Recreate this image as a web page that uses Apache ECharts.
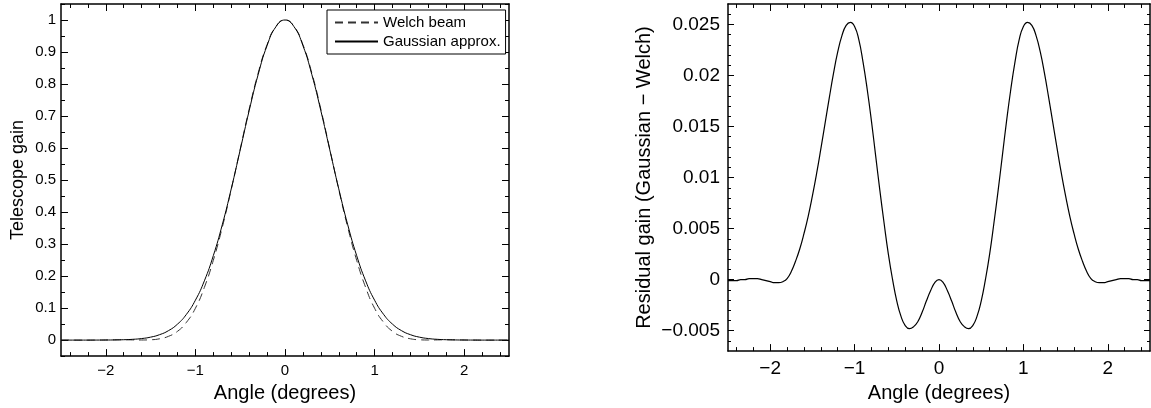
<!DOCTYPE html>
<html>
<head>
<meta charset="utf-8">
<script src="https://cdn.jsdelivr.net/npm/echarts@6/dist/echarts.min.js"></script>
<style>
  html, body { margin: 0; padding: 0; background: #fff; }
  #chart { width: 1151px; height: 408px; }
</style>
</head>
<body>
<div id="chart"></div>
<script>
// beam angle (degrees)
const angle = [
  -2.5, -2.4, -2.3, -2.2, -2.1, -2.0, -1.9, -1.8, -1.7, -1.6, -1.5, -1.4, -1.3,
  -1.2, -1.1, -1.0, -0.9, -0.8, -0.7, -0.6, -0.5, -0.4, -0.3, -0.2, -0.1, 0,
  0.1, 0.2, 0.3, 0.4, 0.5, 0.6, 0.7, 0.8, 0.9, 1.0, 1.1, 1.2, 1.3, 1.4, 1.5,
  1.6, 1.7, 1.8, 1.9, 2.0, 2.1, 2.2, 2.3, 2.4, 2.5
]
const gaussianGain = [
  0, 0, 0, 0, 0.0001, 0.0002, 0.0005, 0.0012, 0.0024, 0.0048, 0.0092, 0.0169, 0.0296,
  0.0498, 0.0805, 0.1246, 0.1851, 0.2638, 0.3604, 0.4725, 0.5942, 0.7167, 0.8291, 0.9201, 0.9794, 1,
  0.9794, 0.9201, 0.8291, 0.7167, 0.5942, 0.4725, 0.3604, 0.2638, 0.1851, 0.1246, 0.0805, 0.0498, 0.0296, 0.0169, 0.0092,
  0.0048, 0.0024, 0.0012, 0.0005, 0.0002, 0.0001, 0, 0, 0, 0
]
const welchGain = [
  0.0001, 0, -0.0001, -0.0001, 0.0001, 0.0004, 0.0008, 0.0011, 0.0006, 0.0003, 0.0010, 0.0041, 0.0118,
  0.0273, 0.0556, 0.0994, 0.1646, 0.2493, 0.3524, 0.4705, 0.5964, 0.7214, 0.8338, 0.9232, 0.9804, 1,
  0.9804, 0.9232, 0.8338, 0.7214, 0.5964, 0.4705, 0.3524, 0.2493, 0.1646, 0.0994, 0.0556, 0.0273, 0.0118, 0.0041, 0.0010,
  0.0003, 0.0006, 0.0011, 0.0008, 0.0004, 0.0001, -0.0001, -0.0001, 0, 0.0001
]

// residual is read on a finer angle grid
const angleFine = [
  -2.5, -2.45, -2.4, -2.35, -2.3, -2.25, -2.2, -2.15, -2.1, -2.05,
  -2.0, -1.95, -1.9, -1.85, -1.8, -1.75, -1.7, -1.65, -1.6, -1.55,
  -1.5, -1.45, -1.4, -1.35, -1.3, -1.25, -1.2, -1.15, -1.1, -1.05,
  -1.0, -0.95, -0.9, -0.85, -0.8, -0.75, -0.7, -0.65, -0.6, -0.55,
  -0.5, -0.45, -0.4, -0.35, -0.3, -0.25, -0.2, -0.15, -0.1, -0.05, 0,
  0.05, 0.1, 0.15, 0.2, 0.25, 0.3, 0.35, 0.4, 0.45, 0.5,
  0.55, 0.6, 0.65, 0.7, 0.75, 0.8, 0.85, 0.9, 0.95, 1.0,
  1.05, 1.1, 1.15, 1.2, 1.25, 1.3, 1.35, 1.4, 1.45, 1.5,
  1.55, 1.6, 1.65, 1.7, 1.75, 1.8, 1.85, 1.9, 1.95, 2.0,
  2.05, 2.1, 2.15, 2.2, 2.25, 2.3, 2.35, 2.4, 2.45, 2.5
]
const residualGain = [
  -0.0001, -0.0001, -0.0001, 0, 0, 0.0001, 0.0001, 0.0001, 0, -0.0001,
  -0.0002, -0.0003, -0.0003, -0.0002, 0.0001, 0.0008, 0.0018, 0.0030, 0.0045, 0.0062,
  0.0082, 0.0104, 0.0128, 0.0153, 0.0178, 0.0202, 0.0223, 0.0239, 0.0249, 0.0252,
  0.0248, 0.0235, 0.0213, 0.0186, 0.0155, 0.0121, 0.0087, 0.0055, 0.0025, 0,
  -0.0021, -0.0036, -0.0045, -0.0048, -0.0046, -0.0041, -0.0032, -0.0021, -0.0011, -0.0003, 0,
  -0.0003, -0.0011, -0.0021, -0.0032, -0.0041, -0.0046, -0.0048, -0.0045, -0.0036, -0.0021,
  0, 0.0025, 0.0055, 0.0087, 0.0121, 0.0155, 0.0186, 0.0213, 0.0235, 0.0248,
  0.0252, 0.0249, 0.0239, 0.0223, 0.0202, 0.0178, 0.0153, 0.0128, 0.0104, 0.0082,
  0.0062, 0.0045, 0.0030, 0.0018, 0.0008, 0.0001, -0.0002, -0.0003, -0.0003, -0.0002,
  -0.0001, 0, 0.0001, 0.0001, 0.0001, 0, 0, -0.0001, -0.0001, -0.0001
]

// tick marks
const angleTicks = [-2, -1, 0, 1, 2]
const angleMinor = [-2.4, -2.2, -1.8, -1.6, -1.4, -1.2, -0.8, -0.6, -0.4, -0.2, 0.2, 0.4, 0.6, 0.8, 1.2, 1.4, 1.6, 1.8, 2.2, 2.4]
const gainTicks = [0, 0.1, 0.2, 0.3, 0.4, 0.5, 0.6, 0.7, 0.8, 0.9, 1]
const gainMinor = [-0.05, 0.05, 0.15, 0.25, 0.35, 0.45, 0.55, 0.65, 0.75, 0.85, 0.95, 1.05]
const residTicks = [-0.005, 0, 0.005, 0.01, 0.015, 0.02, 0.025]
const residMinor = [-0.006, -0.004, -0.003, -0.002, -0.001, 0.001, 0.002, 0.003, 0.004,
  0.006, 0.007, 0.008, 0.009, 0.011, 0.012, 0.013, 0.014, 0.016, 0.017, 0.018, 0.019,
  0.021, 0.022, 0.023, 0.024, 0.026]

const font = "'Liberation Sans', Arial, sans-serif"
const pair = (xs, ys) => xs.map((x, i) => [x, ys[i]])
const minus = v => String(v).replace('-', '\u2212')

function axisSet(kind, grid, range, major, minor, opts) {
  // four axes: labelled side with major ticks, minor ticks, and the mirrored side
  const base = { type: 'value', gridIndex: grid, min: range[0], max: range[1],
    splitLine: { show: false }, axisPointer: { show: false } }
  const sides = kind === 'x' ? ['bottom', 'top'] : ['left', 'right']
  const list = []
  sides.forEach((pos, s) => {
    list.push(Object.assign({}, base, {
      position: pos,
      axisLine: { show: true, onZero: false, lineStyle: { color: '#000', width: 1.5 } },
      axisTick: { show: true, inside: true, length: opts.major, customValues: major,
        lineStyle: { color: '#000', width: 1 } },
      axisLabel: s === 0 ? { show: true, customValues: major, formatter: minus,
        color: '#000', fontFamily: font, fontSize: opts.fontSize, margin: opts.margin } : { show: false }
    }, s === 0 ? opts.name : {}))
    list.push(Object.assign({}, base, {
      position: pos,
      axisLine: { show: false, onZero: false },
      axisTick: { show: true, inside: true, length: opts.minor, customValues: minor,
        lineStyle: { color: '#000', width: 1 } },
      axisLabel: { show: false }
    }))
  })
  return list
}

const chart = echarts.init(document.getElementById('chart'))
const xAxes = [].concat(
  axisSet('x', 0, [-2.5, 2.5], angleTicks, angleMinor, { major: 7, minor: 4, fontSize: 15, margin: 7,
    name: { name: 'Angle (degrees)', nameLocation: 'middle', nameGap: 24,
      nameTextStyle: { color: '#000', fontFamily: font, fontSize: 20 } } }),
  axisSet('x', 1, [-2.5, 2.5], angleTicks, angleMinor, { major: 7, minor: 4, fontSize: 19, margin: 8,
    name: { name: 'Angle (degrees)', nameLocation: 'middle', nameGap: 28,
      nameTextStyle: { color: '#000', fontFamily: font, fontSize: 20 } } })
)
const yAxes = [].concat(
  axisSet('y', 0, [-0.05, 1.05], gainTicks, gainMinor, { major: 7, minor: 4, fontSize: 15, margin: 5,
    name: { name: 'Telescope gain', nameLocation: 'middle', nameGap: 34,
      nameTextStyle: { color: '#000', fontFamily: font, fontSize: 18 } } }),
  axisSet('y', 1, [-0.007, 0.027], residTicks, residMinor, { major: 6, minor: 3, fontSize: 19, margin: 8,
    name: { name: 'Residual gain (Gaussian \u2212 Welch)', nameLocation: 'middle', nameGap: 74,
      nameTextStyle: { color: '#000', fontFamily: font, fontSize: 20 } } })
)

chart.setOption({
  animation: false,
  backgroundColor: '#fff',
  grid: [
    { left: 61, top: 4, width: 448, height: 354 },
    { left: 728, top: 4, width: 422, height: 353 }
  ],
  legend: {
    data: ['Welch beam', 'Gaussian approx.'],
    orient: 'vertical',
    left: 327,
    top: 10,
    padding: [5, 5, 5, 7],
    itemGap: 4,
    itemWidth: 43,
    itemHeight: 14,
    itemStyle: { opacity: 0 },
    borderColor: '#000',
    borderWidth: 1,
    borderRadius: 0,
    backgroundColor: '#fff',
    textStyle: { color: '#000', fontFamily: font, fontSize: 15 }
  },
  xAxis: xAxes,
  yAxis: yAxes,
  series: [
    {
      name: 'Welch beam',
      type: 'line',
      xAxisIndex: 0,
      yAxisIndex: 0,
      data: pair(angle, welchGain),
      smooth: true,
      symbol: 'none',
      lineStyle: { color: '#333', width: 1, type: [8, 5] },
      itemStyle: { color: '#333' }
    },
    {
      name: 'Gaussian approx.',
      type: 'line',
      xAxisIndex: 0,
      yAxisIndex: 0,
      data: pair(angle, gaussianGain),
      smooth: true,
      symbol: 'none',
      lineStyle: { color: '#000', width: 1 },
      itemStyle: { color: '#000' }
    },
    {
      name: 'Residual',
      type: 'line',
      xAxisIndex: 4,
      yAxisIndex: 4,
      data: pair(angleFine, residualGain),
      smooth: true,
      symbol: 'none',
      lineStyle: { color: '#000', width: 1.2 },
      itemStyle: { color: '#000' }
    }
  ]
})
</script>
</body>
</html>
